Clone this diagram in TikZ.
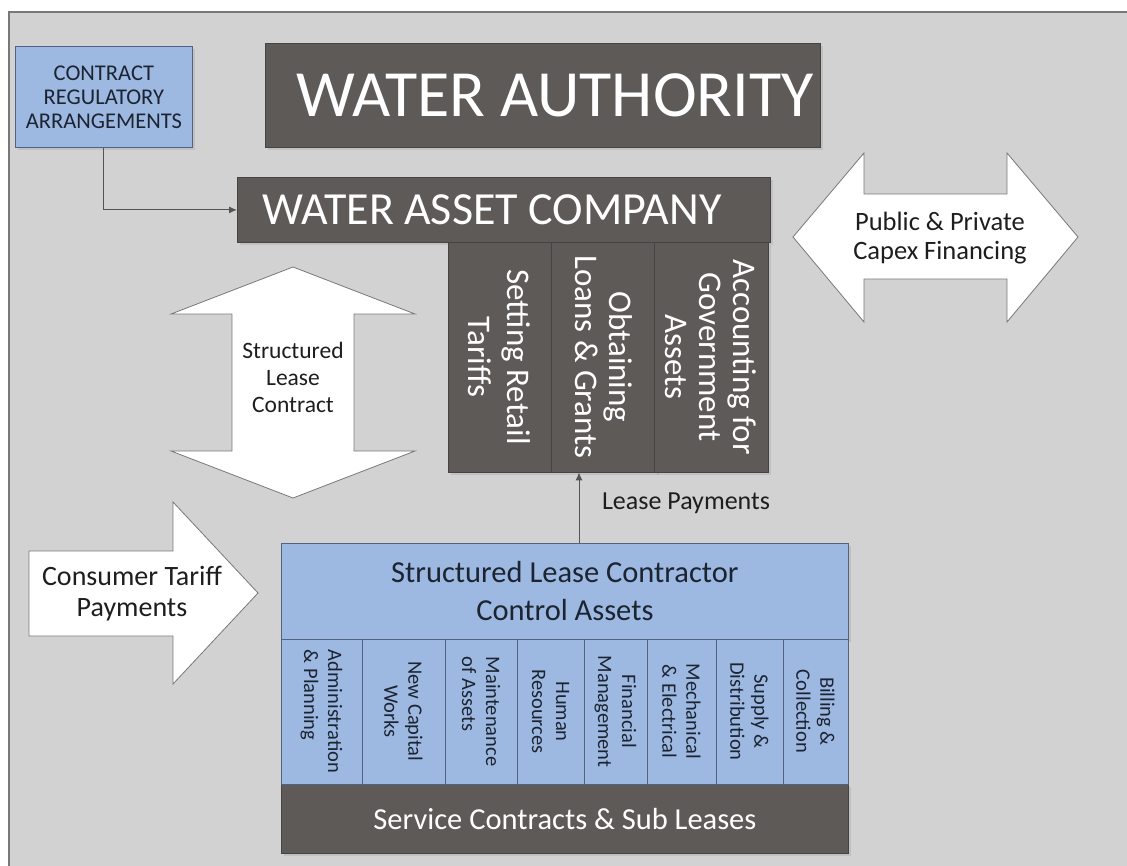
\documentclass[tikz,border=0pt]{standalone}
\usepackage{fontspec}
\setmainfont{Carlito}
\usetikzlibrary{arrows,arrows.meta,backgrounds,calc,shadows,positioning}

\definecolor{wapanel}{RGB}{210,210,210}
\definecolor{waedge}{RGB}{120,120,120}
\definecolor{wadark}{RGB}{94,90,88}
\definecolor{wadarkline}{RGB}{70,67,66}
\definecolor{wablue}{RGB}{157,185,225}
\definecolor{wablueline}{RGB}{80,100,130}
\definecolor{wabluetext}{RGB}{28,36,50}
\definecolor{watext}{RGB}{30,30,30}

\begin{document}
\begin{tikzpicture}[x=1pt,y=-1pt,
  darkpanel/.style={fill=wadark,draw=wadarkline,line width=0.8pt,text=white,inner sep=0pt,
    drop shadow={opacity=0.2,shadow xshift=3pt,shadow yshift=-3pt}},
  bluepanel/.style={fill=wablue,draw=wablueline,line width=0.8pt,text=wabluetext,inner sep=0pt},
  blockarrow/.style={fill=white,draw=waedge,line width=0.8pt},
  arrowtext/.style={text=watext,align=center},
  conn/.style={draw=waedge!70!black,line width=1pt,-{Latex[length=8pt,width=7pt]}}]
\useasboundingbox (0,0) rectangle (1127,865);
\fill[white] (0,0) rectangle (1127,865);
% grey panel
\fill[wapanel] (9,12) rectangle (1140,880);
\draw[waedge,line width=1.5pt] (9,880) -- (9,12) -- (1140,12);

% top boxes
\node[bluepanel,minimum width=177,minimum height=101,anchor=north west,align=center,
  font=\fontsize{22.5}{24}\selectfont,
  drop shadow={opacity=0.2,shadow xshift=3pt,shadow yshift=-3pt}] (crab) at (15,46)
  {CONTRACT\\REGULATORY\\ARRANGEMENTS};
\node[darkpanel,minimum width=555,minimum height=104,anchor=north west,
  font=\fontsize{66}{70}\selectfont] (auth) at (265,43) {\hspace*{24pt}WATER AUTHORITY};
\node[darkpanel,minimum width=533,minimum height=65,anchor=north west,
  font=\fontsize{46}{48}\selectfont] (wac) at (237,177) {WATER ASSET COMPANY\hspace*{24pt}};

% asset company columns
\node[darkpanel,rotate=-90,minimum width=230,minimum height=103,align=center,
  font=\fontsize{33}{39}\selectfont] (wtariffs) at (499.5,357) {Setting Retail\\Tariffs};
\node[darkpanel,rotate=-90,minimum width=230,minimum height=105,align=center,
  font=\fontsize{33}{34}\selectfont] (wloans) at (603.5,357) {Obtaining\\Loans \& Grants};
\node[darkpanel,rotate=-90,minimum width=230,minimum height=114,align=center,
  font=\fontsize{33}{34}\selectfont] (wassets) at (711,357) {Accounting for\\Government\\Assets};

% block arrows
\draw[blockarrow] (793,237) -- (864,153) -- (864,194) -- (1007,194) -- (1007,153) -- (1078,237)
  -- (1007,322) -- (1007,279) -- (864,279) -- (864,322) -- cycle;
\node[arrowtext,font=\fontsize{26.5}{29}\selectfont] (capex) at (940,238)
  {Public \& Private\\Capex Financing};
\draw[blockarrow] (293,267) -- (415,314) -- (354,314) -- (354,451) -- (415,451) -- (293,498)
  -- (171,451) -- (232,451) -- (232,314) -- (171,314) -- cycle;
\node[arrowtext,font=\fontsize{23.5}{27}\selectfont] (slc) at (293,377)
  {Structured\\Lease\\Contract};
\draw[blockarrow] (29,551) -- (173,551) -- (173,502) -- (258,593) -- (173,684) -- (173,636)
  -- (29,636) -- cycle;
\node[arrowtext,font=\fontsize{28}{31}\selectfont] (ctp) at (132,594)
  {Consumer Tariff\\Payments};

% lease contractor
\node[bluepanel,minimum width=567,minimum height=96,anchor=north west,align=center,
  font=\fontsize{30.5}{38}\selectfont,
  drop shadow={opacity=0.2,shadow xshift=3pt,shadow yshift=-3pt}] (ltitle) at (281,543)
  {Structured Lease Contractor\\Control Assets};
\node[darkpanel,minimum width=567,minimum height=69,anchor=north west,
  font=\fontsize{30.5}{36}\selectfont] (lservice) at (281,784) {Service Contracts \& Sub Leases};
\node[bluepanel,rotate=-90,minimum width=145,minimum height=81,align=left,
  font=\fontsize{20.5}{24}\selectfont] (ladmin) at (321.5,711.5) {Administration\\\& Planning};
\node[bluepanel,rotate=-90,minimum width=145,minimum height=83,align=center,
  font=\fontsize{20.5}{24}\selectfont] (lworks) at (403.5,711.5) {New Capital\\Works};
\node[bluepanel,rotate=-90,minimum width=145,minimum height=72,align=left,
  font=\fontsize{20.5}{24}\selectfont] (lmaint) at (481,711.5) {Maintenance\\of Assets};
\node[bluepanel,rotate=-90,minimum width=145,minimum height=67,align=center,
  font=\fontsize{20.5}{24}\selectfont] (lhr) at (550.5,711.5) {Human\\Resources};
\node[bluepanel,rotate=-90,minimum width=145,minimum height=63,align=center,
  font=\fontsize{20.5}{24}\selectfont] (lfin) at (615.5,711.5) {Financial\\Management};
\node[bluepanel,rotate=-90,minimum width=145,minimum height=69,align=center,
  font=\fontsize{20.5}{24}\selectfont] (lmech) at (681.5,711.5) {Mechanical\\\& Electrical};
\node[bluepanel,rotate=-90,minimum width=145,minimum height=67,align=center,
  font=\fontsize{20.5}{24}\selectfont] (lsupply) at (749.5,711.5) {Supply \&\\Distribution};
\node[bluepanel,rotate=-90,minimum width=145,minimum height=65,align=center,
  font=\fontsize{20.5}{24}\selectfont] (lbill) at (815.5,711.5) {Billing \&\\Collection};

% connectors
\draw[conn] (crab.south) |- (wac.west);
\coordinate (lpx) at (579,0);
\draw[conn] (ltitle.north -| lpx) -- (lpx |- wloans.east);
\node[arrowtext,font=\fontsize{26}{28}\selectfont] (lpay) at (686,503) {Lease Payments};
\end{tikzpicture}
\end{document}
